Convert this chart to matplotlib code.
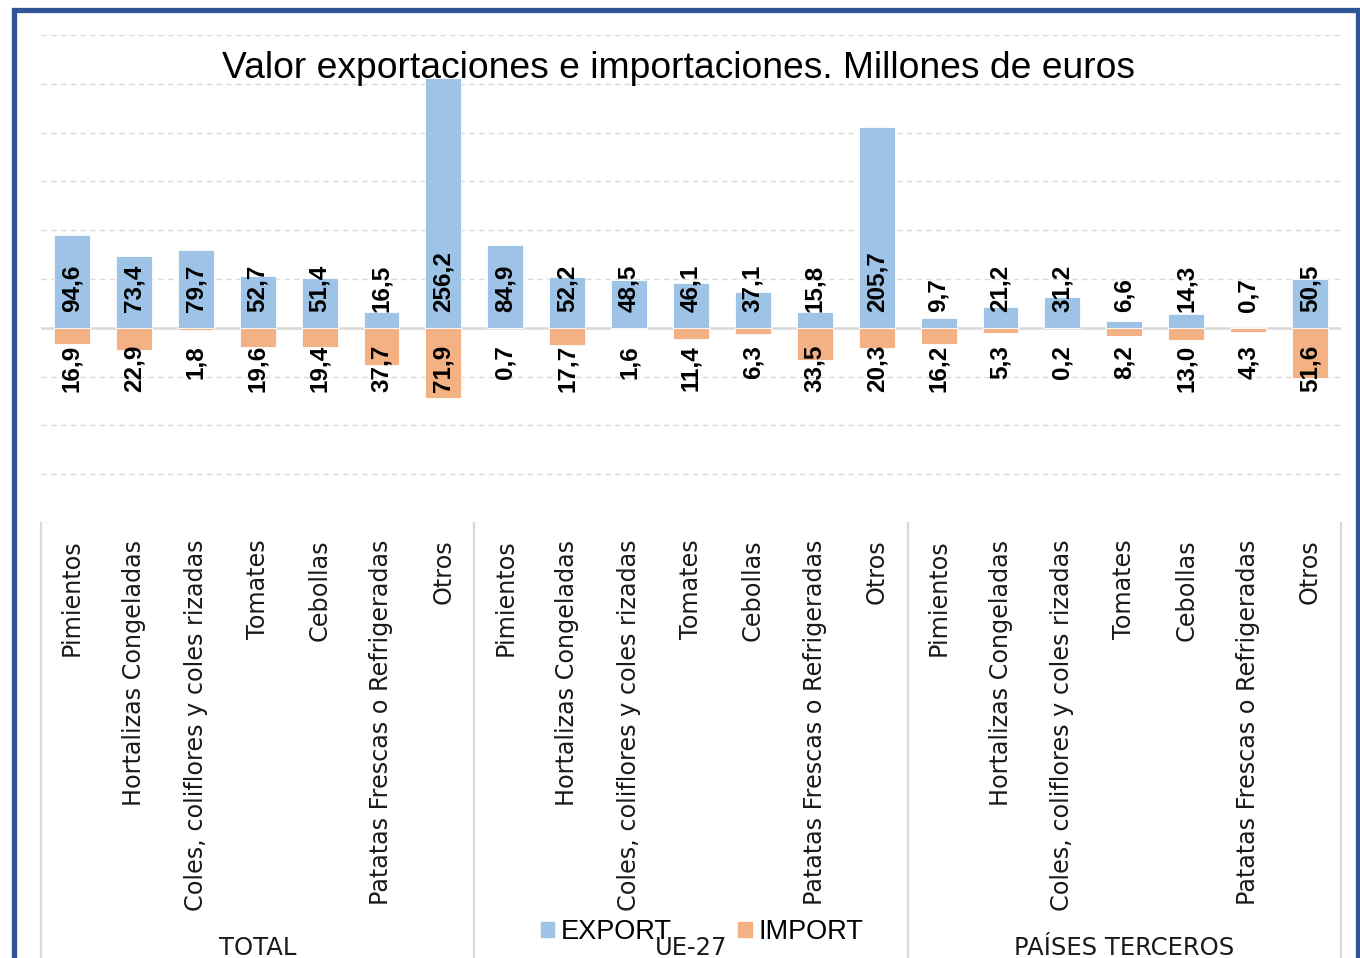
import numpy as np
import matplotlib
matplotlib.use("Agg")
import matplotlib.pyplot as plt
from matplotlib.patches import Rectangle
from matplotlib.lines import Line2D

# data
groups = ["TOTAL", "UE-27", "PAÍSES TERCEROS"]
products = ["Pimientos", "Hortalizas Congeladas", "Coles, coliflores y coles rizadas",
            "Tomates", "Cebollas", "Patatas Frescas o Refrigeradas", "Otros"]

export_total = [94.6, 73.4, 79.7, 52.7, 51.4, 16.5, 256.2]
import_total = [16.9, 22.9, 1.8, 19.6, 19.4, 37.7, 71.9]
export_ue = [84.9, 52.2, 48.5, 46.1, 37.1, 15.8, 205.7]
import_ue = [0.7, 17.7, 1.6, 11.4, 6.3, 33.5, 20.3]
export_ter = [9.7, 21.2, 31.2, 6.6, 14.3, 0.7, 50.5]
import_ter = [16.2, 5.3, 0.2, 8.2, 13.0, 4.3, 51.6]

exports = export_total + export_ue + export_ter
imports = import_total + import_ue + import_ter
labels = products * 3

blue = "#9DC3E6"
orange = "#F4B183"
grey = "#D9D9D9"

fig = plt.figure(figsize=(13.6, 9.58), dpi=100)
ax = fig.add_axes([41/1360, 1 - 523/958, 1300/1360, 488/958])

x = np.arange(len(exports))
ax.bar(x, exports, width=0.58, color=blue, edgecolor="white", linewidth=0.6, zorder=2)
ax.bar(x, [-v for v in imports], width=0.58, color=orange, edgecolor="white", linewidth=0.6, zorder=2)
ax.axhline(0, color=grey, lw=1.8, zorder=1)

def fmt(v):
    return f"{v:.1f}".replace(".", ",")

for xi, e, i in zip(x, exports, imports):
    ax.annotate(fmt(e), (xi, 0), xytext=(0, 16), textcoords="offset pixels",
                rotation=90, ha="center", va="bottom", fontsize=17.5,
                fontweight="bold", family="Liberation Sans", zorder=3)
    ax.annotate(fmt(i), (xi, 0), xytext=(0, -17), textcoords="offset pixels",
                rotation=90, ha="center", va="top", fontsize=17.5,
                fontweight="bold", family="Liberation Sans", zorder=3)

ax.set_xlim(-0.5, len(x) - 0.5)
ax.set_ylim(-200, 300)
ax.set_yticks(np.arange(-200, 301, 50))
ax.yaxis.grid(True, color=grey, lw=1, linestyle=(0, (4, 3)), zorder=0)
ax.tick_params(axis="y", left=False, labelleft=False)
for s in ax.spines.values():
    s.set_visible(False)

ax.set_xticks(x)
ax.set_xticklabels(labels, rotation=90, fontsize=17.2, family="DejaVu Sans", color="#1a1a1a")
ax.tick_params(axis="x", length=0, pad=12)

# group separators and group names
for b in [-0.5, 6.5, 13.5, 20.5]:
    ax.add_line(Line2D([b, b], [0, -1.0], transform=ax.get_xaxis_transform(),
                       color=grey, lw=1.6, clip_on=False))
for gi, g in enumerate(groups):
    fig.text((41 + (gi * 7 + 3.5) * 1300 / 21) / 1360, 3 / 958, g,
             ha="center", va="baseline", fontsize=17.5, family="DejaVu Sans", color="#1a1a1a")

fig.text(679 / 1360, 1 - 68 / 958, "Valor exportaciones e importaciones. Millones de euros",
         ha="center", va="center", fontsize=26.8, family="Liberation Sans")

handles = [Rectangle((0, 0), 1, 1, color=blue), Rectangle((0, 0), 1, 1, color=orange)]
fig.legend(handles, ["EXPORT", "IMPORT"], loc="center", bbox_to_anchor=(702 / 1360, 1 - 932 / 958),
           ncol=2, frameon=False, prop={"family": "Liberation Sans", "size": 19.5},
           handlelength=0.5, handleheight=0.5, handletextpad=0.25, columnspacing=2.45)

fig.add_artist(Rectangle((13.5 / 1360, -0.05), (1357.5 - 13.5) / 1360, 0.05 + 1 - 10 / 958,
                         transform=fig.transFigure, fill=False, edgecolor="#2F5597", lw=3.8))

fig.savefig("out.png", dpi=100)
